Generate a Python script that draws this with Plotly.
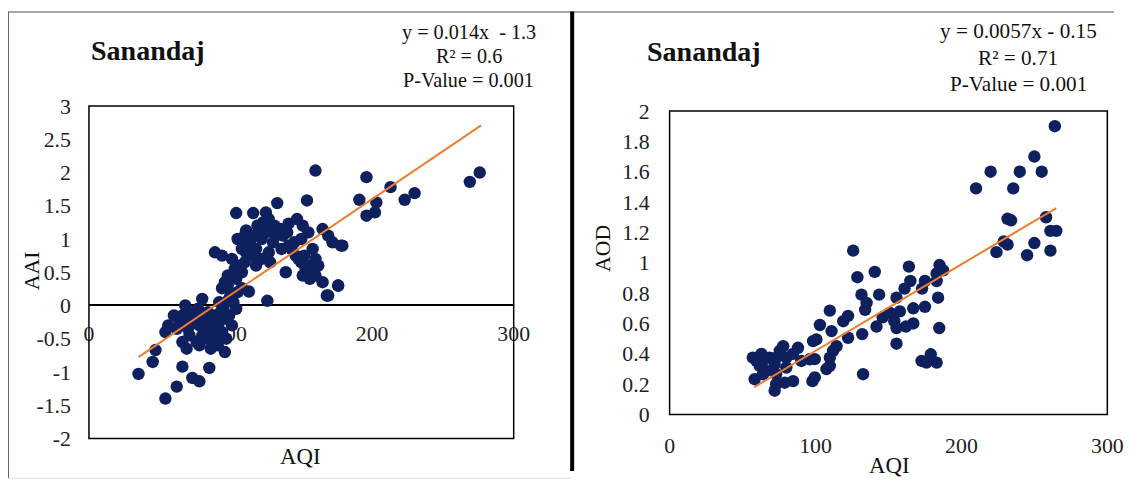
import plotly.graph_objects as go

W, H = 1130, 484

# ---------------- data: left panel (AQI vs AAI) ----------------
aai_aqi = [160, 154, 133, 104, 116, 125, 147, 141, 127, 120, 111, 105, 132, 165, 169, 179, 172, 155, 151,
           89, 94, 101, 111, 118, 122, 128, 139, 148, 155, 160, 151, 156, 165, 176, 168, 126, 113, 108, 104,
           94, 99, 92, 80, 68, 73, 64, 56, 54, 78, 82, 89, 99, 94, 87, 96, 78, 71, 66, 47, 45, 35, 66, 73,
           78, 85, 62, 54, 104, 101, 84, 141, 136, 122, 113, 118, 108,
           196, 191, 196, 202, 203, 213, 223, 230, 269, 276, 178, 176, 169,
           117, 125, 130, 135, 112, 108, 127, 120, 145, 150, 158, 162, 152,
           75, 85, 90, 92, 97, 70, 60, 80, 95, 100, 105, 98,
           110, 114, 119, 123, 128, 131, 137, 140, 143, 146, 150, 153, 157, 160, 106, 103, 110, 115, 98, 96,
           62, 66, 70, 74, 77, 81, 84, 88, 91, 86, 76, 69, 93, 97, 102]
aai_val = [2.03, 1.58, 1.54, 1.39, 1.39, 1.40, 1.30, 1.23, 1.30, 1.15, 1.13, 1.00, 1.05, 1.15, 1.05, 0.90, 0.95, 1.10, 1.20,
           0.80, 0.75, 0.70, 0.80, 0.85, 0.70, 0.65, 0.50, 0.70, 0.60, 0.70, 0.45, 0.40, 0.35, 0.30, 0.15, 0.07, 0.21, 0.50, 0.40,
           0.26, 0.10, 0.05, 0.10, 0.00, -0.10, -0.25, -0.30, -0.40, -0.30, -0.20, -0.15, -0.15, -0.40, -0.55, -0.70, -0.60, -0.45, -0.55, -0.67, -0.85, -1.03, -0.92, -1.09,
           -1.14, -0.94, -1.22, -1.40, -0.05, -0.30, -0.50, 0.90, 0.85, 1.00, 0.90, 0.60, 0.26,
           1.93, 1.59, 1.35, 1.40, 1.55, 1.78, 1.59, 1.69, 1.86, 2.00, 0.90, 0.30, 0.15,
           1.05, 1.10, 0.95, 1.15, 0.95, 0.85, 0.80, 0.70, 0.95, 1.00, 0.85, 0.60, 0.75,
           -0.20, -0.35, -0.45, -0.25, -0.50, -0.20, -0.15, -0.45, -0.05, 0.15, 0.20, 0.30,
           1.05, 0.98, 1.20, 1.25, 1.15, 1.20, 1.05, 1.10, 0.85, 0.75, 0.65, 0.55, 0.50, 0.45, 0.60, 0.55, 0.65, 0.75, 0.45, 0.35,
           -0.35, -0.15, -0.35, -0.25, -0.05, -0.30, -0.10, -0.30, -0.60, -0.65, -0.55, -0.65, -0.10, -0.20, 0.05]
aai_trend_x = [35, 277]
aai_slope, aai_intercept = 0.0144, -1.28

# ---------------- data: right panel (AQI vs AOD) ----------------
aod_aqi = [264, 250, 255, 240, 220, 210, 235.5, 231.6, 234, 258, 261, 265, 250, 231.6, 229, 224, 245, 261,
           125.8, 140.6, 128.7, 164, 185, 187.5, 183, 183, 175, 173, 165, 161, 131.5, 143.6, 135, 134, 155.5,
           184, 175, 167, 157.8, 151, 146, 141.8, 154, 162, 167, 155.5, 184.8, 122.3, 119, 109.8, 103, 111,
           122.3, 132, 100.6, 98.3, 114.4, 112, 109.8, 109.8, 107.5, 99.5, 99.5, 97.9, 155.5, 132.6, 172.7,
           176, 179, 183, 88, 84.6, 90.3, 77.8, 75.5, 80, 73, 72, 80, 73, 84.6, 78.9, 73, 72, 62.9, 59.5, 64,
           57, 61.8, 66.3, 58.3, 64, 96, 68.6]
aod_val = [1.90, 1.70, 1.60, 1.60, 1.60, 1.49, 1.49, 1.29, 1.28, 1.30, 1.21, 1.21, 1.13, 1.12, 1.14, 1.07, 1.05, 1.08,
           1.08, 0.94, 0.905, 0.975, 0.985, 0.95, 0.93, 0.88, 0.88, 0.83, 0.88, 0.83, 0.79, 0.79, 0.735, 0.69, 0.77,
           0.77, 0.71, 0.70, 0.68, 0.67, 0.64, 0.58, 0.615, 0.58, 0.60, 0.57, 0.57, 0.65, 0.615, 0.685, 0.59, 0.55,
           0.506, 0.53, 0.495, 0.484, 0.45, 0.42, 0.375, 0.32, 0.30, 0.365, 0.245, 0.22, 0.467, 0.266, 0.353,
           0.342, 0.397, 0.342, 0.44, 0.40, 0.353, 0.45, 0.42, 0.375, 0.375, 0.33, 0.31, 0.266, 0.22, 0.21, 0.20, 0.157, 0.40, 0.353, 0.353,
           0.375, 0.32, 0.288, 0.233, 0.266, 0.364, 0.375]
aod_trend_x = [58, 265]
aod_slope, aod_intercept = 0.0057, -0.15

# axis ticks
x_ticks = [0, 100, 200, 300]
aai_ticks = [3, 2.5, 2, 1.5, 1, 0.5, 0, -0.5, -1, -1.5, -2]
aai_ticktext = ["3", "2.5", "2", "1.5", "1", "0.5", "0", "-0.5", "-1", "-1.5", "-2"]
aod_ticks = [0, 0.2, 0.4, 0.6, 0.8, 1, 1.2, 1.4, 1.6, 1.8, 2]
aod_ticktext = ["0", "0.2", "0.4", "0.6", "0.8", "1", "1.2", "1.4", "1.6", "1.8", "2"]

# text
title_text = "Sanandaj"
left_eq = ["y = 0.014x  - 1.3", "R² = 0.6", "P-Value = 0.001"]
right_eq = ["y = 0.0057x - 0.15", "R² = 0.71", "P-Value = 0.001"]

# ---------------- layout helpers ----------------
# The page capture places the figure at (OX, OY) scaled by (SX, SY); target pixel
# positions below are given in picture pixels and converted back to figure paper units.
OX, OY, SX, SY = 5.0, 11.5, 0.982, 0.955
FS = 1 / 0.965  # font / marker compensation


def px(xp):
    return ((xp - OX) / SX) / W


def py(yp):
    return 1 - ((yp - OY) / SY) / H


def fs(v):
    return round(v * FS, 1)


FONT = "Liberation Serif, Times New Roman, serif"
NAVY = "#0f205e"
ORANGE = "#ed7d31"

left_dom_x = [px(89), px(514)]
left_dom_y = [py(441), py(107)]
right_dom_x = [px(670), px(1108)]
right_dom_y = [py(417), py(112)]

aai_range = [-2, 3]
zero_pos = left_dom_y[0] + (0 - aai_range[0]) / (aai_range[1] - aai_range[0]) * (left_dom_y[1] - left_dom_y[0])

fig = go.Figure()

fig.add_trace(go.Scatter(x=aai_aqi, y=aai_val, mode="markers", xaxis="x", yaxis="y",
                         marker=dict(size=fs(12), color=NAVY), showlegend=False))
fig.add_trace(go.Scatter(x=aai_trend_x, y=[aai_slope * v + aai_intercept for v in aai_trend_x],
                         mode="lines", xaxis="x", yaxis="y",
                         line=dict(color=ORANGE, width=2), showlegend=False))
fig.add_trace(go.Scatter(x=aod_aqi, y=aod_val, mode="markers", xaxis="x2", yaxis="y2",
                         marker=dict(size=fs(12), color=NAVY), showlegend=False))
fig.add_trace(go.Scatter(x=aod_trend_x, y=[aod_slope * v + aod_intercept for v in aod_trend_x],
                         mode="lines", xaxis="x2", yaxis="y2",
                         line=dict(color=ORANGE, width=2), showlegend=False))

tickfont = dict(family=FONT, size=fs(21), color="#222")

fig.update_layout(
    width=W, height=H,
    margin=dict(l=0, r=0, t=0, b=0),
    paper_bgcolor="white", plot_bgcolor="white",
    showlegend=False,
    xaxis=dict(domain=left_dom_x, range=[0, 300], tickvals=x_ticks, anchor="free", position=zero_pos,
               showline=True, linecolor="black", linewidth=1.5, showgrid=False, zeroline=False,
               ticks="", ticklabelstandoff=9, tickfont=tickfont, layer="below traces"),
    yaxis=dict(domain=left_dom_y, range=aai_range, tickvals=aai_ticks, ticktext=aai_ticktext, anchor="x",
               showline=False, showgrid=False, zeroline=False, ticks="", ticklabelstandoff=17,
               tickfont=tickfont),
    xaxis2=dict(domain=right_dom_x, range=[0, 300], tickvals=x_ticks, anchor="y2",
                showline=False, showgrid=False, zeroline=False, ticks="", ticklabelstandoff=16,
                tickfont=tickfont),
    yaxis2=dict(domain=right_dom_y, range=[0, 2], tickvals=aod_ticks, ticktext=aod_ticktext, anchor="x2",
                showline=False, showgrid=False, zeroline=False, ticks="", ticklabelstandoff=19,
                tickfont=tickfont),
)

shapes = [
    # plot boxes
    dict(type="rect", xref="x domain", yref="y domain", x0=0, x1=1, y0=0, y1=1,
         line=dict(color="black", width=1.5), layer="above"),
    dict(type="rect", xref="x2 domain", yref="y2 domain", x0=0, x1=1, y0=0, y1=1,
         line=dict(color="black", width=1.5), layer="above"),
    # outer frame
    dict(type="line", xref="paper", yref="paper", x0=px(8), x1=1, y0=py(12.5), y1=py(12.5),
         line=dict(color="#555", width=1)),
    dict(type="line", xref="paper", yref="paper", x0=px(8.5), x1=px(8.5), y0=py(12), y1=py(481),
         line=dict(color="#666", width=1)),
    dict(type="line", xref="paper", yref="paper", x0=px(8), x1=px(571), y0=py(481), y1=py(481),
         line=dict(color="#ddd", width=1)),
    dict(type="line", xref="paper", yref="paper", x0=px(572.5), x1=px(572.5), y0=py(12), y1=0,
         line=dict(color="black", width=4)),
]
fig.update_layout(shapes=shapes)

ann = []


def add_text(text, xp, yp, size, bold=False, angle=0):
    ann.append(dict(text=f"<b>{text}</b>" if bold else text, x=px(xp), y=py(yp), xref="paper", yref="paper",
                    xanchor="center", yanchor="middle", showarrow=False, textangle=angle,
                    font=dict(family=FONT, size=fs(size), color="#111")))


add_text(title_text, 148, 51, 27, bold=True)
add_text(title_text, 704, 52, 27, bold=True)
for i, t in enumerate(left_eq):
    add_text(t, 469, 33 + 24 * i, 19.5)
for i, t in enumerate(right_eq):
    add_text(t, 1019, 32 + 26.5 * i, 20.5)
add_text("AQI", 301, 459, 22)
add_text("AAI", 32, 272, 21, angle=-90)
add_text("AQI", 890, 468, 22)
add_text("AOD", 604, 250, 21, angle=-90)
fig.update_layout(annotations=ann)

fig.write_html("out.html", config={"displayModeBar": False},
               post_script="document.body.style.margin='0px';document.body.style.padding='0px';"
                           "document.documentElement.style.overflow='hidden';")
